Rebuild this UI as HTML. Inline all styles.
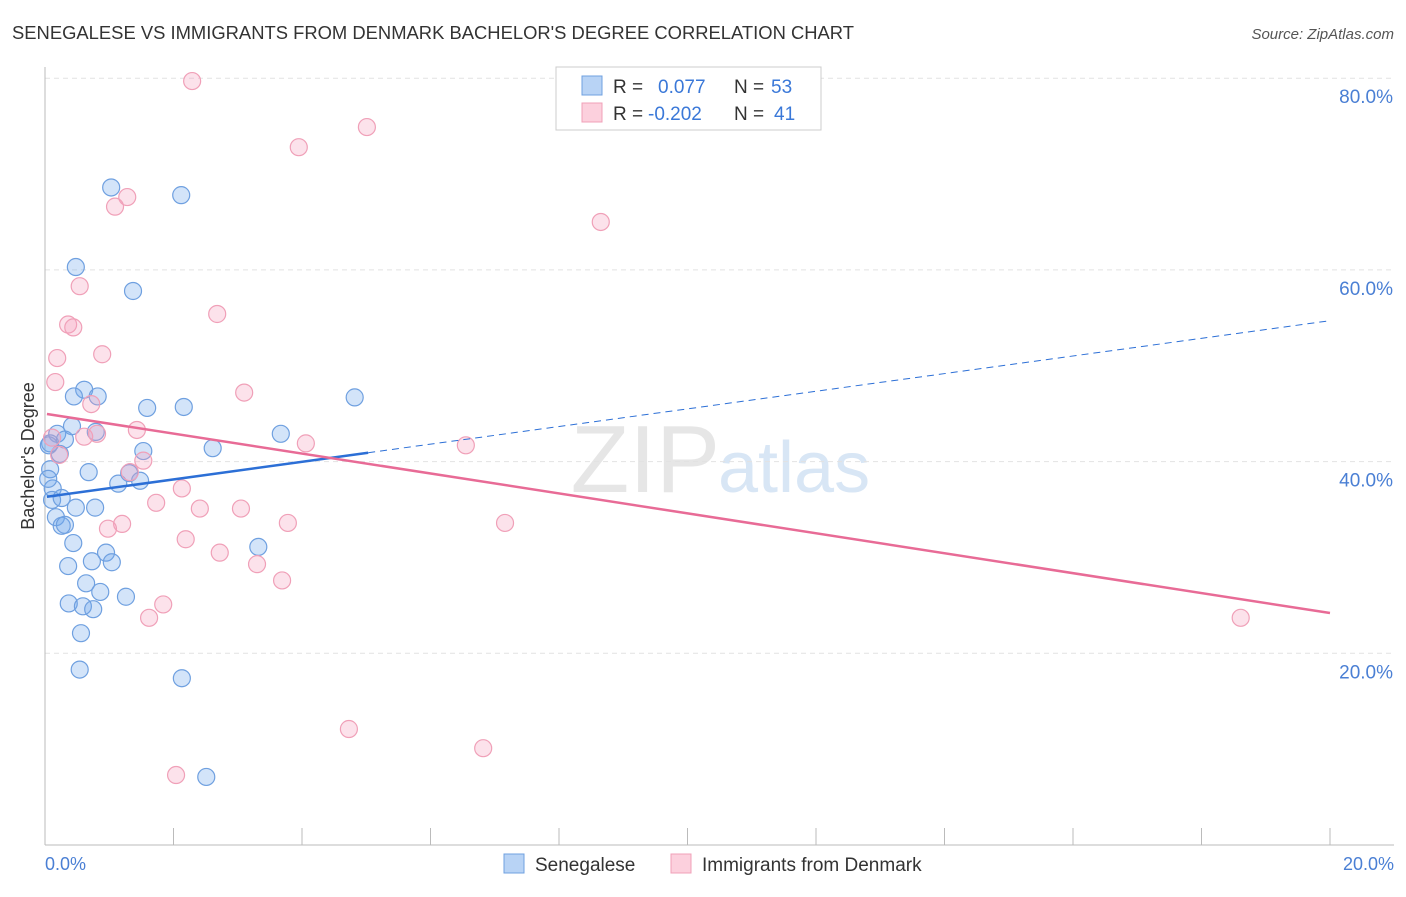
<!DOCTYPE html>
<html><head><meta charset="utf-8"><style>
body{margin:0;background:#fff;font-family:"Liberation Sans",sans-serif}
svg text{font-family:"Liberation Sans",sans-serif}
</style></head><body>
<svg id="chart" width="1406" height="892" xmlns="http://www.w3.org/2000/svg">
<text x="12" y="39" font-size="18" fill="#333" textLength="842" lengthAdjust="spacingAndGlyphs">SENEGALESE VS IMMIGRANTS FROM DENMARK BACHELOR'S DEGREE CORRELATION CHART</text>
<text x="1394" y="39" font-size="15" fill="#555" text-anchor="end" font-style="italic">Source: ZipAtlas.com</text>
<text x="720" y="492" font-size="96" fill="#e6e6e6" text-anchor="end" font-family="Liberation Serif">ZIP</text>
<text x="718" y="492" font-size="72" fill="#d8e6f5">atlas</text>
<g id="grid"></g><g id="axes"></g><g id="pts"></g><g id="lines"></g>
<text transform="translate(34,456) rotate(-90)" font-size="18" fill="#333" text-anchor="middle">Bachelor's Degree</text>
<text x="45" y="870" font-size="18" fill="#4a7fd4">0.0%</text>
<text x="1394" y="870" font-size="18" fill="#4a7fd4" text-anchor="end">20.0%</text>
<g>
<rect x="556" y="67" width="265" height="63" fill="#fff" stroke="#ccc"/>
<rect x="582" y="76" width="20" height="19" fill="#b8d3f5" stroke="#6fa0e0"/>
<rect x="582" y="103" width="20" height="19" fill="#fcd0dd" stroke="#f0a0b8"/>
<text x="613" y="93" font-size="19" fill="#333">R = </text><text x="658" y="93" font-size="19" fill="#3a78d8">0.077</text>
<text x="734" y="93" font-size="19" fill="#333">N = </text><text x="771" y="93" font-size="19" fill="#3a78d8">53</text>
<text x="613" y="120" font-size="19" fill="#333">R = </text><text x="648" y="120" font-size="19" fill="#3a78d8">-0.202</text>
<text x="734" y="120" font-size="19" fill="#333">N = </text><text x="774" y="120" font-size="19" fill="#3a78d8">41</text>
</g>
<g>
<rect x="504" y="854" width="20" height="19" fill="#b8d3f5" stroke="#6fa0e0"/>
<text x="535" y="871" font-size="19" fill="#333">Senegalese</text>
<rect x="671" y="854" width="20" height="19" fill="#fcd0dd" stroke="#f0a0b8"/>
<text x="702" y="871" font-size="19" fill="#333">Immigrants from Denmark</text>
</g>
</svg>
<script>
const yTicks=[20,40,60,80];
const xTicks=[0,2,4,6,8,10,12,14,16,18,20];
const blueX=[1.03,2.12,0.48,1.37,0.61,0.45,0.82,1.59,2.16,4.82,0.42,0.79,0.19,0.31,0.08,0.23,3.67,1.53,2.61,0.08,0.68,1.31,1.48,1.14,0.12,0.11,0.26,0.48,0.78,0.17,0.26,0.31,0.44,3.32,0.95,0.73,1.04,0.36,0.64,0.86,1.26,0.37,0.59,0.75,0.56,0.54,2.13,2.51,0.06,0.05];
const blueY=[68.6,67.8,60.3,57.8,47.5,46.8,46.8,45.6,45.7,46.7,43.7,43.1,42.9,42.3,41.9,40.8,42.9,41.1,41.4,39.2,38.9,38.8,38.0,37.7,37.2,36.0,36.2,35.2,35.2,34.2,33.3,33.4,31.5,31.1,30.5,29.6,29.5,29.1,27.3,26.4,25.9,25.2,24.9,24.6,22.1,18.3,17.4,7.1,41.7,38.2];
const pinkX=[2.29,5.01,3.95,1.28,1.09,8.65,0.54,2.68,0.36,0.44,0.19,0.89,0.16,3.10,0.72,1.43,0.61,0.81,4.06,6.55,0.11,0.22,1.53,1.32,2.13,1.73,2.41,3.05,1.20,0.98,3.78,7.16,2.19,2.72,3.30,3.69,1.84,1.62,18.61,4.73,6.82,2.04];
const pinkY=[79.7,74.9,72.8,67.6,66.6,65.0,58.3,55.4,54.3,54.0,50.8,51.2,48.3,47.2,46.0,43.3,42.6,42.9,41.9,41.7,42.5,40.7,40.1,38.9,37.2,35.7,35.1,35.1,33.5,33.0,33.6,33.6,31.9,30.5,29.3,27.6,25.1,23.7,23.7,12.1,10.1,7.3];
const blueTrend=[36.3,0.92]; // intercept, slope
const pinkTrend=[45.0,-1.04];
const NS="http://www.w3.org/2000/svg";
const sx=v=>45+v/20*1285, sy=v=>845-v*9.585;
function mk(tag,attrs,parent){const e=document.createElementNS(NS,tag);for(const k in attrs)e.setAttribute(k,attrs[k]);document.getElementById(parent).appendChild(e);return e;}
mk('line',{x1:45,y1:67,x2:45,y2:845,stroke:'#bbb'},'axes');
mk('line',{x1:45,y1:845,x2:1394,y2:845,stroke:'#bbb'},'axes');
xTicks.forEach(t=>{const e=mk('line',{x1:sx(t),y1:828,x2:sx(t),y2:845,stroke:'#bbb'},'axes');

});
yTicks.forEach(t=>{const g=mk('line',{x1:45,y1:sy(t),x2:1394,y2:sy(t),stroke:'#e2e2e2','stroke-dasharray':'5,4'},'grid');


const tx=mk('text',{x:1393,y:sy(t)+25,'font-size':19,fill:'#4a7fd4','text-anchor':'end'},'grid');tx.textContent=t.toFixed(1)+'%';

});
function pts(X,Y,fill,stroke,name){X.forEach((x,i)=>{const c=mk('circle',{cx:sx(x),cy:sy(Y[i]),r:8.5,fill:fill,stroke:stroke,'stroke-width':1.2},'pts');

});}
pts(blueX,blueY,'rgba(110,165,235,0.3)','#6fa0e0','senegalese-point');
pts(pinkX,pinkY,'rgba(245,160,190,0.3)','#f0a0b8','denmark-point');
const bl=x=>blueTrend[0]+blueTrend[1]*x, pl=x=>pinkTrend[0]+pinkTrend[1]*x;
let l=mk('line',{x1:sx(0.03),y1:sy(bl(0.03)),x2:sx(5.03),y2:sy(bl(5.03)),stroke:'#2c6fd6','stroke-width':2.5},'lines');


l=mk('line',{x1:sx(5.03),y1:sy(bl(5.03)),x2:sx(20),y2:sy(bl(20)),stroke:'#2c6fd6','stroke-width':1,'stroke-dasharray':'7,5'},'lines');


l=mk('line',{x1:sx(0.03),y1:sy(pl(0.03)),x2:sx(20),y2:sy(pl(20)),stroke:'#e86b96','stroke-width':2.5},'lines');


</script>
</body></html>
